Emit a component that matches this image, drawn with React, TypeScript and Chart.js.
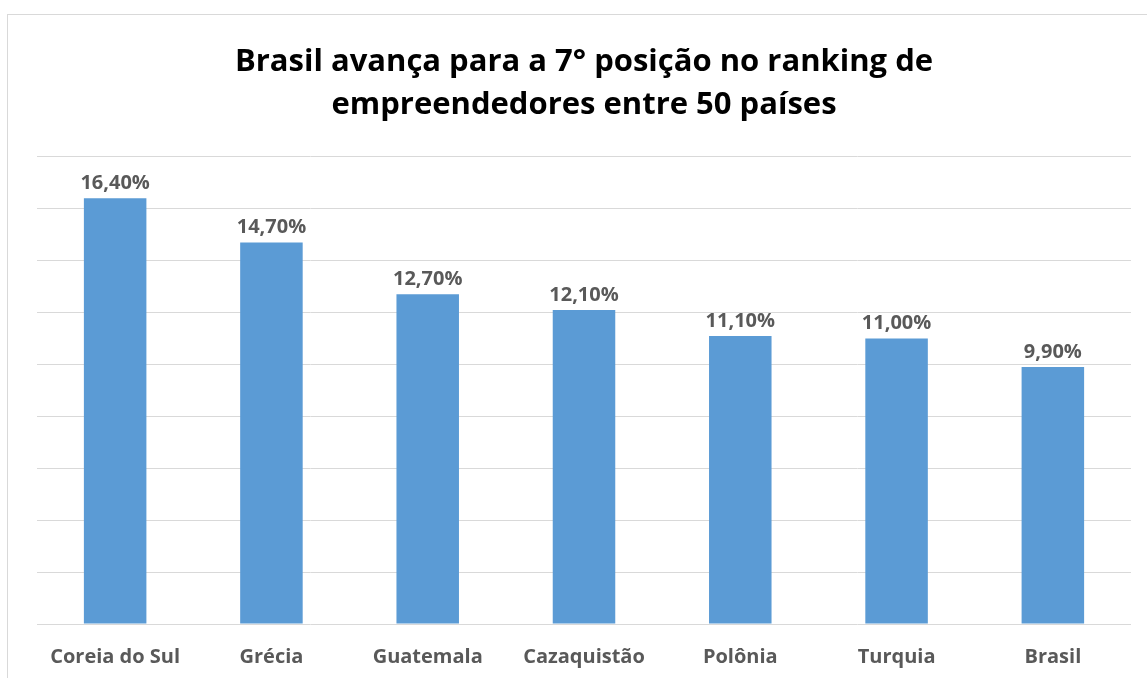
import React, { useEffect, useRef } from "react";
import { Chart, registerables } from "chart.js";

Chart.register(...registerables);

const categories = ["Coreia do Sul", "Grécia", "Guatemala", "Cazaquistão", "Polônia", "Turquia", "Brasil"];
const values = [16.4, 14.7, 12.7, 12.1, 11.1, 11.0, 9.9];
const titleLines = ["Brasil avança para a 7° posição no ranking de", "empreendedores entre 50 países"];

const FONT = "'Open Sans', 'Noto Sans', sans-serif";

const dataLabels = {
  id: "dataLabels",
  afterDatasetsDraw(chart: any) {
    const ctx = chart.ctx;
    const meta = chart.getDatasetMeta(0);
    ctx.save();
    ctx.font = `bold 20px ${FONT}`;
    ctx.fillStyle = "#595959";
    ctx.textAlign = "center";
    ctx.textBaseline = "bottom";
    meta.data.forEach((bar: any, i: number) => {
      const v = values[i].toFixed(2).replace(".", ",") + "%";
      ctx.fillText(v, bar.x, bar.y - 5);
    });
    ctx.restore();
  },
};

export default function App() {
  const ref = useRef<HTMLCanvasElement | null>(null);
  useEffect(() => {
    document.body.style.margin = "0";
    const chart = new Chart(ref.current as HTMLCanvasElement, {
      type: "bar",
      data: {
        labels: categories,
        datasets: [
          {
            data: values,
            backgroundColor: "#5B9BD5",
            barPercentage: 0.4,
            categoryPercentage: 1,
          },
        ],
      },
      options: {
        animation: false,
        responsive: false,
        layout: { padding: { left: 37, right: 16, top: 0, bottom: -4 } },
        plugins: {
          legend: { display: false },
          tooltip: { enabled: false },
          title: {
            display: true,
            text: titleLines,
            color: "#000000",
            font: { family: FONT, size: 31, weight: "bold", lineHeight: 1.4 },
            padding: { top: 40, bottom: 30 },
          },
        },
        scales: {
          x: {
            grid: { display: false },
            border: { display: false },
            ticks: { color: "#595959", font: { family: FONT, size: 20, weight: "bold" }, padding: 13 },
          },
          y: {
            min: 0,
            max: 18,
            ticks: { display: false, stepSize: 2 },
            border: { display: false },
            grid: { color: "#d9d9d9", lineWidth: 1, drawTicks: false },
          },
        },
      },
      plugins: [dataLabels],
    });
    return () => chart.destroy();
  }, []);
  return (
    <div style={{ position: "relative", width: 1147, height: 678, overflow: "hidden", background: "#fff" }}>
      <div
        style={{
          position: "absolute",
          left: 7,
          top: 14,
          width: 1200,
          height: 700,
          border: "1px solid #d9d9d9",
          boxSizing: "border-box",
        }}
      />
      <canvas ref={ref} width={1147} height={678} style={{ position: "absolute", left: 0, top: 0 }} />
    </div>
  );
}
